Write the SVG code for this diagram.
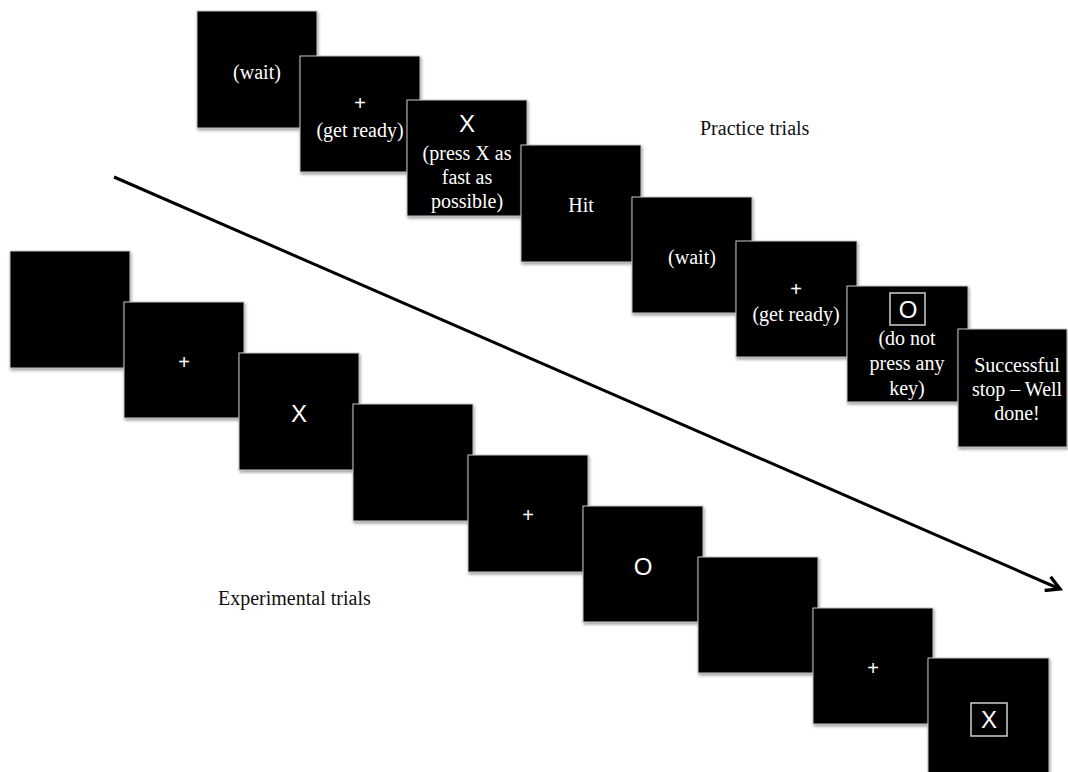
<svg xmlns="http://www.w3.org/2000/svg" width="1068" height="772" viewBox="0 0 1068 772">
<style>
.scr{fill:#000;stroke:#c8c8c8;stroke-width:1;filter:url(#sh)}
.t{font-family:"Liberation Serif","Times New Roman",serif;font-size:20px;fill:#fff;text-anchor:middle}
.s{font-family:"Liberation Sans",Arial,sans-serif;fill:#fff;text-anchor:middle}
.lab{font-family:"Liberation Serif","Times New Roman",serif;font-size:20px;fill:#111}
.fr{fill:none;stroke:#d0d0d0;stroke-width:1.5}
</style>
<defs>
<filter id="sh" x="-10%" y="-10%" width="125%" height="125%">
<feDropShadow dx="1" dy="2" stdDeviation="1.5" flood-color="#777" flood-opacity="0.7"/>
</filter>
<marker id="ah" viewBox="0 0 12 12" refX="10" refY="6" markerWidth="6" markerHeight="6" orient="auto" markerUnits="strokeWidth">
<path d="M1,1 L10,6 L1,11" fill="none" stroke="#000" stroke-width="2.2" stroke-linejoin="miter"/>
</marker>
</defs>
<g id="connectors">
<line x1="114" y1="177" x2="1060" y2="589" stroke="#000" stroke-width="3" marker-end="url(#ah)"/>
</g>
<text id="practice-label" class="lab" x="700" y="135">Practice trials</text>
<text id="experimental-label" class="lab" x="218" y="605">Experimental trials</text>
<g id="p1"><rect class="scr" x="197" y="11" width="120" height="117"/><text class="t" x="257" y="79">(wait)</text></g>
<g id="p2"><rect class="scr" x="300" y="56" width="120" height="116"/><text class="s" x="360" y="110" font-size="20">+</text><text class="t" x="360" y="137">(get ready)</text></g>
<g id="p3"><rect class="scr" x="407" y="100" width="120" height="116"/><text class="s" x="467" y="132" font-size="24">X</text><text class="t" x="467" y="160">(press X as</text><text class="t" x="467" y="184">fast as</text><text class="t" x="467" y="208">possible)</text></g>
<g id="p4"><rect class="scr" x="521" y="145" width="120" height="117"/><text class="t" x="581" y="212">Hit</text></g>
<g id="p5"><rect class="scr" x="632" y="197" width="120" height="116"/><text class="t" x="692" y="264">(wait)</text></g>
<g id="p6"><rect class="scr" x="736" y="241" width="121" height="116"/><text class="s" x="796" y="296" font-size="20">+</text><text class="t" x="796" y="321">(get ready)</text></g>
<g id="p7"><rect class="scr" x="847" y="286" width="121" height="116"/><rect class="fr" x="890" y="293" width="35" height="32"/><text class="s" x="908" y="318" font-size="24">O</text><text class="t" x="907" y="345">(do not</text><text class="t" x="907" y="370">press any</text><text class="t" x="907" y="395">key)</text></g>
<g id="p8"><rect class="scr" x="958" y="329" width="109" height="118"/><text class="t" x="1017" y="372">Successful</text><text class="t" x="1017" y="396">stop – Well</text><text class="t" x="1017" y="420">done!</text></g>
<g id="e1"><rect class="scr" x="10" y="251" width="120" height="117"/></g>
<g id="e2"><rect class="scr" x="124" y="302" width="120" height="116"/><text class="s" x="184" y="369" font-size="20">+</text></g>
<g id="e3"><rect class="scr" x="239" y="353" width="120" height="117"/><text class="s" x="299" y="422" font-size="24">X</text></g>
<g id="e4"><rect class="scr" x="353" y="404" width="120" height="117"/></g>
<g id="e5"><rect class="scr" x="468" y="455" width="120" height="117"/><text class="s" x="528" y="522" font-size="20">+</text></g>
<g id="e6"><rect class="scr" x="583" y="506" width="120" height="116"/><text class="s" x="643" y="575" font-size="24">O</text></g>
<g id="e7"><rect class="scr" x="698" y="557" width="120" height="116"/></g>
<g id="e8"><rect class="scr" x="813" y="608" width="120" height="116"/><text class="s" x="873" y="675" font-size="20">+</text></g>
<g id="e9"><rect class="scr" x="928" y="658" width="121" height="130"/><rect class="fr" x="971" y="703" width="36" height="33"/><text class="s" x="989" y="728" font-size="24">X</text></g>
</svg>
